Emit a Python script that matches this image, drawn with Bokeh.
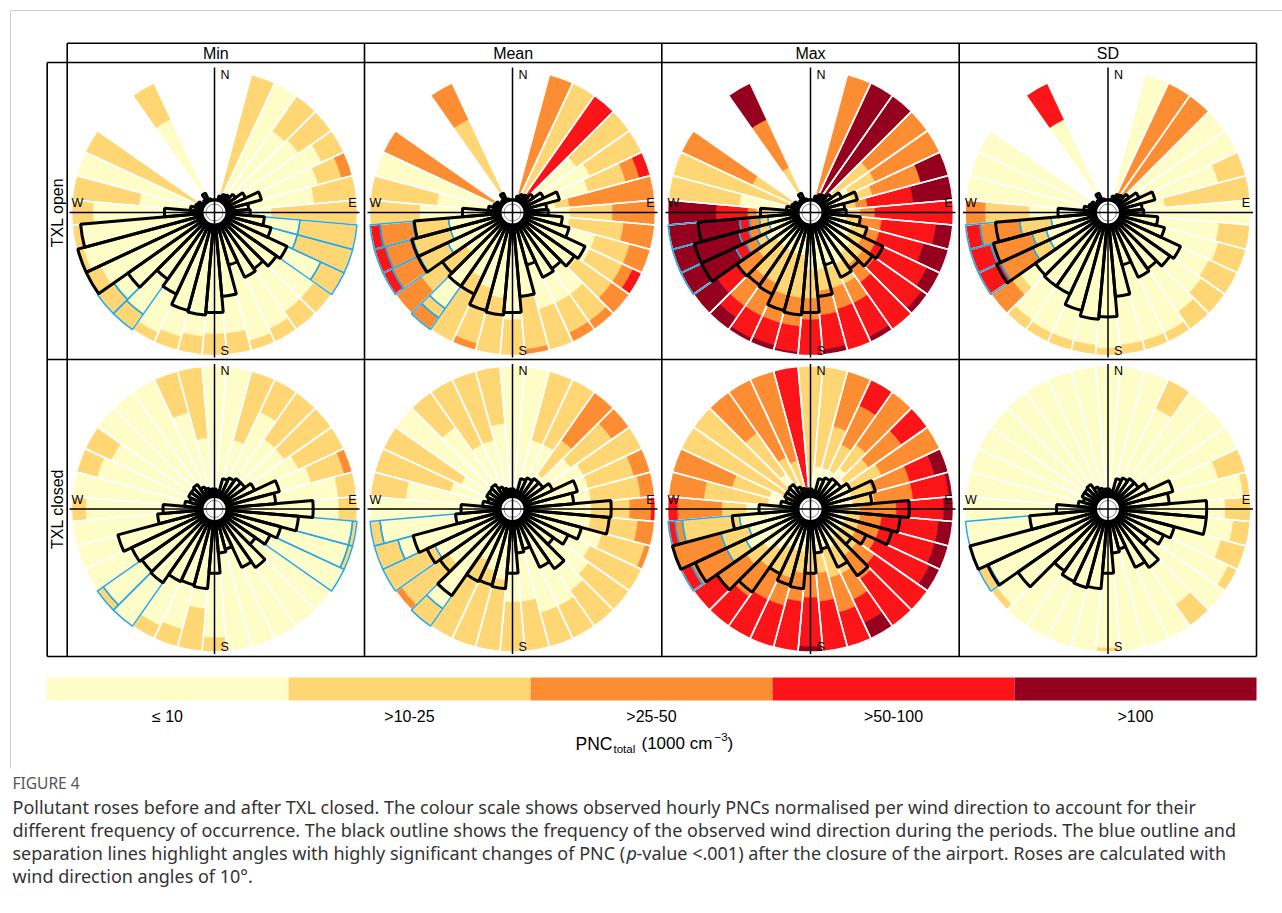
import math
from bokeh.plotting import figure
from bokeh.models import Range1d, ColumnDataSource
from bokeh.core.properties import value
from bokeh.embed import file_html
from bokeh.resources import INLINE

# ---------------- data ----------------
DIRECTIONS = list(range(0, 360, 10))
STATISTICS = ["Min", "Mean", "Max", "SD"]
PERIODS = ["TXL open", "TXL closed"]
PNC_CLASSES = ["\u2264 10", ">10-25", ">25-50", ">50-100", ">100"]
CLASS_COLORS = ["#FFFDC7", "#FED774", "#FD8D33", "#FB1519", "#95001F"]

# cumulative share (0-1) of hours below each class boundary, per direction
# (missing trailing values = 1)
OPEN_MIN = [None, None, (0,), (1,), (0.7,), (0.72,), (0.83,), (0.75, 0.92), (0.7,), (0.4,), (0.6,), (0.6,),
            (0.82,), (0.85,), (0.85,), (0.9,), (0.93,), (0.85,), (0.85,), (0.87,), (0.9,), (0.93,), (0.87,),
            (0.86,), (0.88,), (0.95,), (0.94,), (0.85,), (0.53,), (1,), (0,), None, None, (0.72,), None, None]
OPEN_MEAN = [None, None, (0, 0), (0,), (0, 0, 0), (0.55,), (0.6,), (0.55, 0.82, 0.92), (0.3, 0.4), (0.4, 0.7),
             (0.4, 0.78), (0.6, 0.85), (0.6, 0.85, 0.93), (0.55, 0.85), (0.7, 0.93), (0.7, 0.93), (0.7,),
             (0.6, 0.96), (0.75,), (0.6,), (0.55, 0.95), (0.5,), (0.82, 0.9), (0.4, 0.78), (0.5, 0.72, 0.93),
             (0.45, 0.72, 0.92), (0.45, 0.7, 0.93), (0.65,), (0.53,), (1,), (0, 0), None, None, (0, 0.72), None, None]
OPEN_MAX = [None, None, (0, 0), (0, 0, 0, 0), (0, 0, 0, 0), (0.2, 0.5), (0.3, 0.5), (0.3, 0.45, 0.8, 0.8),
            (0.25, 0.32, 0.4, 0.72), (0.25, 0.35, 0.45), (0.25, 0.35, 0.5, 0.88), (0.3, 0.4, 0.5, 0.82),
            (0.3, 0.4, 0.5, 0.9), (0.35, 0.45, 0.55, 0.95), (0.35, 0.45, 0.6), (0.4, 0.55, 0.7, 0.96),
            (0.4, 0.55, 0.7), (0.4, 0.55, 0.72, 0.96), (0.4, 0.6, 0.75), (0.3, 0.6, 0.8, 0.98),
            (0.3, 0.6, 0.8, 0.96), (0.3, 0.55, 0.8, 0.97), (0.3, 0.55, 0.8, 0.9), (0.3, 0.45, 0.62, 0.8),
            (0.35, 0.42, 0.5, 0.58), (0.3, 0.38, 0.45, 0.52), (0.3, 0.36, 0.43, 0.5), (0.3, 0.38, 0.44, 0.66),
            (0.5,), (0.15,), (0, 0.45), None, None, (0.15, 0.35, 0.72, 0.72), None, None]
OPEN_SD = [None, None, (1,), (0, 0), (0, 0), (1,), (1,), (0.8,), (0.4,), (1,), (0.78,), (0.8,), (0.78,), (0.8,),
           (0.85,), (0.93,), (0.93,), (0.93,), (0.95,), (0.93,), (0.93,), (0.93,), (0.92,), (0.75, 0.82),
           (0.45, 0.58, 0.83), (0.45, 0.55, 0.85), (0.4, 0.62, 0.9), (0.55, 0.86), (1,), (1,), (1,), None, None,
           (0.72, 0.72, 0.72), None, None]
CLOSED_MIN = [(1,), (1,), (0.5,), (0.75,), (0.6,), (0.6,), (0.65,), (0.7, 0.94), (0.87,), (0.87,), (0.97,),
              (0.97,), (1,), (1,), (1,), (1,), (1,), (1,), (0.9,), (0.7,), (0.87,), (0.9,), (1,), (0.95,), (1,),
              (1,), (1,), (0.9,), (1,), (0.85,), (0.8,), (1,), (1,), (1,), (0.7,), (0.5,)]
CLOSED_MEAN = [(1,), (1,), (0.5,), (0.5,), (0.3, 0.59), (0.5, 0.85), (0.55,), (0.55, 0.88), (0.55, 0.9),
               (0.55, 0.82, 0.97), (0.55, 0.88), (0.65, 0.96), (0.6,), (0.65,), (0.7,), (0.75,), (0.75,),
               (0.65,), (0.65,), (0.5,), (0.45,), (0.4,), (0.85,), (0.55, 0.95), (0.6,), (0.83,), (0.93,), (1,),
               (0.75,), (0.45,), (0.4,), (1,), (0.7,), (0.5,), (0.5,), (0.6,)]
CLOSED_MAX = [(0,), (0.3,), (0.3, 0.6), (0.3, 0.5, 0.8), (0.35, 0.55), (0.3, 0.5, 0.78), (0.3, 0.55),
              (0.3, 0.45, 0.72, 0.9), (0.3, 0.45, 0.72, 0.97), (0.25, 0.35, 0.6, 0.93), (0.25, 0.35, 0.5, 0.9),
              (0.25, 0.35, 0.5, 0.9), (0.25, 0.35, 0.5, 0.92), (0.25, 0.4, 0.55), (0.25, 0.4, 0.6),
              (0.3, 0.5, 0.7, 0.88), (0.3, 0.5, 0.75), (0.3, 0.45, 0.65), (0.3, 0.45, 0.62, 0.96),
              (0.3, 0.45, 0.65), (0.3, 0.5, 0.7), (0.3, 0.5, 0.7), (0.35, 0.5, 0.75), (0.4, 0.55, 0.8),
              (0.5, 0.65, 0.92), (0.45, 0.65), (0.5, 0.9, 0.95), (0.45, 0.62, 0.93), (0.3, 0.75), (0.3, 0.57),
              (0.15,), (0.2,), (0.3, 0.65), (0.2, 0.4), (0, 0.35), (0, 0, 0)]
CLOSED_SD = [(1,), (1,), (1,), (0.78,), (1,), (1,), (1,), (0.8,), (0.95,), (0.82,), (0.88,), (0.82,), (0.93,),
             (1,), (0.82,), (1,), (1,), (1,), (0.97,), (1,), (1,), (1,), (1,), (0.95,), (0.92,), (1,), (1,),
             (1,), (1,), (1,), (1,), (1,), (1,), (1,), (1,), (1,)]

# wind direction frequency (% of rose radius)
FREQ_OPEN_MIN = [9, 9, 12, 14, 15, 18, 24, 34, 24, 25, 35, 41, 56, 53, 48, 50, 38, 59, 70, 72, 71, 63, 57, 74,
                 99, 99, 94, 35, 17, 14, 13, 10, 11, 15, 10, 9]
FREQ_OPEN_MEAN = [9, 9, 12, 14, 15, 18, 24, 34, 24, 25, 35, 41, 56, 53, 48, 50, 38, 59, 70, 72, 71, 63, 63, 60,
                  73, 73, 69, 35, 17, 14, 13, 10, 11, 15, 10, 9]
FREQ_OPEN_MAX = [9, 9, 12, 14, 15, 18, 24, 34, 24, 25, 35, 41, 56, 53, 48, 50, 38, 59, 70, 72, 71, 63, 62, 63,
                 84, 84, 79, 35, 17, 14, 13, 10, 11, 15, 10, 9]
FREQ_OPEN_SD = [9, 9, 12, 14, 15, 18, 24, 34, 24, 25, 35, 41, 56, 53, 48, 50, 38, 59, 73, 75, 71, 63, 63, 62,
                86, 83, 79, 35, 17, 14, 13, 10, 11, 15, 10, 9]
FREQ_CLOSED_MIN = [14, 13, 22, 24, 26, 26, 31, 47, 43, 69, 59, 48, 43, 35, 50, 45, 29, 31, 45, 56, 55, 56, 63, 62,
                   64, 70, 40, 36, 21, 18, 20, 20, 21, 17, 15, 14]
FREQ_CLOSED_MEAN = [14, 13, 22, 24, 26, 26, 31, 47, 43, 69, 68, 50, 43, 35, 51, 45, 29, 31, 45, 56, 55, 56, 74, 62,
                    66, 72, 40, 36, 21, 18, 20, 20, 21, 17, 15, 14]
FREQ_CLOSED_MAX = [14, 13, 22, 24, 26, 26, 31, 47, 43, 69, 63, 59, 43, 35, 57, 45, 29, 31, 45, 56, 55, 50, 71, 80,
                   89, 100, 55, 36, 21, 18, 20, 20, 21, 17, 15, 14]
FREQ_CLOSED_SD = [14, 13, 22, 24, 26, 26, 31, 47, 43, 69, 69, 48, 43, 35, 50, 45, 29, 31, 45, 56, 57, 56, 53, 77,
                  93, 100, 55, 36, 21, 18, 20, 20, 21, 17, 15, 14]

# directions with highly significant change (p < .001)
SIGNIFICANT = {"Min": [100, 110, 120, 220, 230], "Mean": [220, 240, 250, 260],
               "Max": [240, 250, 260], "SD": [240, 250, 260]}

BANDS = {("TXL open", "Min"): OPEN_MIN, ("TXL open", "Mean"): OPEN_MEAN,
         ("TXL open", "Max"): OPEN_MAX, ("TXL open", "SD"): OPEN_SD,
         ("TXL closed", "Min"): CLOSED_MIN, ("TXL closed", "Mean"): CLOSED_MEAN,
         ("TXL closed", "Max"): CLOSED_MAX, ("TXL closed", "SD"): CLOSED_SD}
FREQS = {("TXL open", "Min"): FREQ_OPEN_MIN, ("TXL open", "Mean"): FREQ_OPEN_MEAN,
         ("TXL open", "Max"): FREQ_OPEN_MAX, ("TXL open", "SD"): FREQ_OPEN_SD,
         ("TXL closed", "Min"): FREQ_CLOSED_MIN, ("TXL closed", "Mean"): FREQ_CLOSED_MEAN,
         ("TXL closed", "Max"): FREQ_CLOSED_MAX, ("TXL closed", "SD"): FREQ_CLOSED_SD}

CAPTION_HEAD = "FIGURE 4"
CAPTION = ["Pollutant roses before and after TXL closed. The colour scale shows observed hourly PNCs normalised per wind direction to account for their",
           "different frequency of occurrence. The black outline shows the frequency of the observed wind direction during the periods. The blue outline and",
           ("separation lines highlight angles with highly significant changes of PNC (", "p",
            "-value <.001) after the closure of the airport. Roses are calculated with"),
           "wind direction angles of 10\u00b0."]

# ---------------- layout (page pixels, origin top-left) ----------------
W, H = 1282, 913
def X(px):
    return px
def Y(py):
    return H - py

COL_EDGES = [66.7, 364.0, 661.3, 958.7, 1256.0]
ROW_EDGES = [62.0, 359.0, 656.0]
STRIP_TOP = 42.7
STRIP_LEFT = 46.7
CENTER_X = [214.0, 512.0, 810.0, 1107.5]
CENTER_Y = [212.0, 508.5]
R = 143.0
BLUE = "#2AA8E0"
AF = value("Liberation Sans")
CF = value("Noto Sans")

p = figure(width=W, height=H, x_range=Range1d(0, W), y_range=Range1d(0, H),
           output_backend="svg", toolbar_location=None, x_axis_type=None, y_axis_type=None,
           min_border=0, outline_line_color=None, background_fill_color="white")

seg = dict(x=[], y=[], ir=[], orr=[], sa=[], ea=[], c=[])
sep = dict(x=[], y=[], r=[], sa=[], ea=[])
blue = dict(x=[], y=[], ir=[], orr=[], sa=[], ea=[])
bars = dict(x=[], y=[], r=[], sa=[], ea=[])
centers = dict(x=[], y=[])

for ri, period in enumerate(PERIODS):
    for ci, stat in enumerate(STATISTICS):
        cx, cy = X(CENTER_X[ci]), Y(CENTER_Y[ri])
        centers["x"].append(cx); centers["y"].append(cy)
        bands = BANDS[(period, stat)]
        freq = FREQS[(period, stat)]
        for k, d in enumerate(DIRECTIONS):
            sa = math.radians(90 - d - 5)
            ea = math.radians(90 - d + 5)
            b = bands[k]
            if b is not None:
                bounds = [0.0] + list(b) + [1.0] * (4 - len(b)) + [1.0]
                for cl in range(5):
                    if bounds[cl + 1] > bounds[cl]:
                        seg["x"].append(cx); seg["y"].append(cy)
                        seg["ir"].append(bounds[cl] * R); seg["orr"].append(bounds[cl + 1] * R)
                        seg["sa"].append(sa); seg["ea"].append(ea); seg["c"].append(CLASS_COLORS[cl])
                        if d in SIGNIFICANT[stat]:
                            blue["x"].append(cx); blue["y"].append(cy)
                            blue["ir"].append(bounds[cl] * R); blue["orr"].append(bounds[cl + 1] * R)
                            blue["sa"].append(sa); blue["ea"].append(ea)
                sep["x"].append(cx); sep["y"].append(cy); sep["r"].append(R)
                sep["sa"].append(sa); sep["ea"].append(ea)
            bars["x"].append(cx); bars["y"].append(cy); bars["r"].append(freq[k] / 100.0 * R)
            bars["sa"].append(sa); bars["ea"].append(ea)

p.annular_wedge(x="x", y="y", inner_radius="ir", outer_radius="orr", start_angle="sa", end_angle="ea",
                fill_color="c", line_color="c", line_width=0.4, source=ColumnDataSource(seg))
p.wedge(x="x", y="y", radius="r", start_angle="sa", end_angle="ea", fill_color=None,
        line_color="white", line_width=1.6, source=ColumnDataSource(sep))
p.annular_wedge(x="x", y="y", inner_radius="ir", outer_radius="orr", start_angle="sa", end_angle="ea",
                fill_color=None, line_color=BLUE, line_width=1.5, source=ColumnDataSource(blue))
p.wedge(x="x", y="y", radius="r", start_angle="sa", end_angle="ea", fill_color=None,
        line_color="black", line_width=3, source=ColumnDataSource(bars))

# compass cross and centre
cs = ColumnDataSource(centers)
p.circle(x="x", y="y", radius=12, fill_color="white", line_color="black", line_width=2, source=cs)
p.circle(x="x", y="y", radius=8.5, fill_color=None, line_color="#8a8a8a", line_width=1, source=cs)
hx0 = [x - 145 for x in centers["x"]]; hx1 = [x + 145 for x in centers["x"]]
vy0 = [y - 145 for y in centers["y"]]; vy1 = [y + 145 for y in centers["y"]]
p.segment(x0=hx0, y0=centers["y"], x1=hx1, y1=centers["y"], line_color="black", line_width=1.5)
p.segment(x0=centers["x"], y0=vy0, x1=centers["x"], y1=vy1, line_color="black", line_width=1.5)

lab_fs = "12.5px"
p.text(x=[x + 6 for x in centers["x"]], y=[y + 138 for y in centers["y"]], text=["N"] * 8,
       text_font=AF, text_font_size=lab_fs, text_align="left", text_baseline="middle")
p.text(x=[x + 6 for x in centers["x"]], y=[y - 138 for y in centers["y"]], text=["S"] * 8,
       text_font=AF, text_font_size=lab_fs, text_align="left", text_baseline="middle")
p.text(x=[x + 142 for x in centers["x"]], y=[y + 9.5 for y in centers["y"]], text=["E"] * 8,
       text_font=AF, text_font_size=lab_fs, text_align="right", text_baseline="middle")
p.text(x=[x - 143 for x in centers["x"]], y=[y + 9.5 for y in centers["y"]], text=["W"] * 8,
       text_font=AF, text_font_size=lab_fs, text_align="left", text_baseline="middle")

# frames and strips
lw = 1.6
p.segment(x0=[X(COL_EDGES[0])] + [X(STRIP_LEFT)] * 3,
          y0=[Y(STRIP_TOP)] + [Y(e) for e in ROW_EDGES],
          x1=[X(COL_EDGES[-1])] * 4,
          y1=[Y(STRIP_TOP)] + [Y(e) for e in ROW_EDGES], line_color="black", line_width=lw)
p.segment(x0=[X(e) for e in COL_EDGES], y0=[Y(STRIP_TOP)] * 5, x1=[X(e) for e in COL_EDGES],
          y1=[Y(ROW_EDGES[-1])] * 5, line_color="black", line_width=lw)
p.segment(x0=[X(STRIP_LEFT)], y0=[Y(ROW_EDGES[0])], x1=[X(STRIP_LEFT)], y1=[Y(ROW_EDGES[-1])],
          line_color="black", line_width=lw)
p.text(x=[X((COL_EDGES[i] + COL_EDGES[i + 1]) / 2) for i in range(4)], y=[Y(53)] * 4, text=STATISTICS,
       text_font=AF, text_font_size="16px", text_align="center", text_baseline="middle")
p.text(x=[X(57)] * 2, y=[Y(c) for c in CENTER_Y], text=PERIODS, angle=math.pi / 2,
       text_font=AF, text_font_size="16px", text_align="center", text_baseline="middle")

# colour legend
L0, L1 = 46.0, 1256.0
bw = (L1 - L0) / 5
lx = [X(L0 + bw * (i + 0.5)) for i in range(5)]
p.rect(x=lx, y=[Y(688.5)] * 5, width=bw, height=23, fill_color=CLASS_COLORS, line_color=None)
p.text(x=lx, y=[Y(716)] * 5, text=PNC_CLASSES, text_font=AF, text_font_size="16px",
       text_align="center", text_baseline="middle")
p.text(x=[X(575)], y=[Y(743)], text=["PNC"], text_font=AF, text_font_size="17.5px", text_baseline="middle")
p.text(x=[X(613)], y=[Y(748)], text=["total"], text_font=AF, text_font_size="11.5px", text_baseline="middle")
p.text(x=[X(641)], y=[Y(743)], text=["(1000 cm"], text_font=AF, text_font_size="17px", text_baseline="middle")
p.text(x=[X(714)], y=[Y(736)], text=["\u22123"], text_font=AF, text_font_size="11.5px", text_baseline="middle")
p.text(x=[X(727)], y=[Y(743)], text=[")"], text_font=AF, text_font_size="17px", text_baseline="middle")

# page border
p.segment(x0=[X(10), X(10)], y0=[Y(10), Y(10)], x1=[X(1282), X(10)], y1=[Y(10), Y(768)],
          line_color="#cfcfcf", line_width=1)

# caption
p.text(x=[X(12)], y=[Y(782)], text=[CAPTION_HEAD], text_font=CF, text_font_size="15.5px",
       text_color="#555555", text_baseline="middle")
cap_y = [806, 829, 852, 875]
cfs = "18px"
for i, line in enumerate(CAPTION):
    if isinstance(line, tuple):
        p.text(x=[X(12)], y=[Y(cap_y[i])], text=[line[0]], text_font=CF, text_font_size=cfs,
               text_color="#333333", text_baseline="middle")
        p.text(x=[X(626)], y=[Y(cap_y[i])], text=[line[1]], text_font=CF, text_font_size=cfs,
               text_font_style="italic", text_color="#333333", text_baseline="middle")
        p.text(x=[X(636)], y=[Y(cap_y[i])], text=[line[2]], text_font=CF, text_font_size=cfs,
               text_color="#333333", text_baseline="middle")
    else:
        p.text(x=[X(12)], y=[Y(cap_y[i])], text=[line], text_font=CF, text_font_size=cfs,
               text_color="#333333", text_baseline="middle")

open("out.html", "w").write(file_html(p, INLINE))
